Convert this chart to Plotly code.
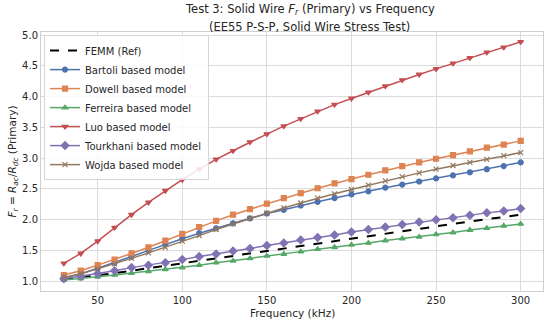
import plotly.graph_objects as go

freq_khz = [30, 40, 50, 60, 70, 80, 90, 100, 110, 120, 130, 140, 150, 160, 170, 180, 190, 200,
            210, 220, 230, 240, 250, 260, 270, 280, 290, 300]

femm = [1.03, 1.06, 1.09, 1.13, 1.17, 1.21, 1.25, 1.29, 1.33, 1.37, 1.41, 1.45, 1.49, 1.53,
        1.57, 1.61, 1.65, 1.70, 1.74, 1.78, 1.82, 1.86, 1.90, 1.94, 1.97, 2.01, 2.04, 2.08]
bartoli = [1.05, 1.12, 1.21, 1.30, 1.40, 1.50, 1.60, 1.69, 1.78, 1.86, 1.94, 2.02, 2.10, 2.16,
           2.23, 2.29, 2.35, 2.41, 2.46, 2.52, 2.57, 2.62, 2.67, 2.72, 2.77, 2.82, 2.87, 2.93]
dowell = [1.10, 1.17, 1.26, 1.35, 1.45, 1.55, 1.66, 1.77, 1.88, 1.98, 2.08, 2.17, 2.26, 2.35,
          2.43, 2.51, 2.59, 2.66, 2.73, 2.80, 2.87, 2.93, 2.99, 3.05, 3.11, 3.17, 3.22, 3.28]
ferreira = [1.02, 1.04, 1.07, 1.10, 1.13, 1.16, 1.19, 1.22, 1.26, 1.30, 1.33, 1.37, 1.41, 1.44,
            1.48, 1.52, 1.55, 1.59, 1.62, 1.66, 1.69, 1.72, 1.76, 1.79, 1.83, 1.86, 1.90, 1.93]
luo = [1.29, 1.45, 1.65, 1.87, 2.08, 2.28, 2.47, 2.65, 2.82, 2.98, 3.12, 3.26, 3.39, 3.52,
       3.64, 3.76, 3.87, 3.97, 4.07, 4.17, 4.27, 4.36, 4.45, 4.54, 4.63, 4.72, 4.80, 4.89]
tourkhani = [1.04, 1.08, 1.12, 1.17, 1.22, 1.26, 1.30, 1.35, 1.40, 1.44, 1.49, 1.53, 1.58, 1.62,
             1.67, 1.71, 1.75, 1.80, 1.84, 1.88, 1.92, 1.96, 2.00, 2.03, 2.07, 2.11, 2.14, 2.18]
wojda = [1.06, 1.12, 1.20, 1.28, 1.37, 1.46, 1.55, 1.65, 1.74, 1.84, 1.93, 2.02, 2.11, 2.19,
         2.27, 2.35, 2.42, 2.49, 2.56, 2.63, 2.70, 2.76, 2.82, 2.88, 2.93, 2.98, 3.04, 3.09]

x_ticks = [50, 100, 150, 200, 250, 300]
y_ticks = [1.0, 1.5, 2.0, 2.5, 3.0, 3.5, 4.0, 4.5, 5.0]

title_line1 = "Test 3: Solid Wire <i>F<sub>r</sub></i> (Primary) vs Frequency"
title_line2 = "(EE55 P-S-P, Solid Wire Stress Test)"
x_title = "Frequency (kHz)"
y_title = "<i>F<sub>r</sub></i> = <i>R<sub>ac</sub></i>/<i>R<sub>dc</sub></i> (Primary)"

models = [
    ("Bartoli based model", bartoli, "#4C72B0", "circle", 5),
    ("Dowell based model", dowell, "#DD8452", "square", 5),
    ("Ferreira based model", ferreira, "#55A868", "triangle-up", 5),
    ("Luo based model", luo, "#C44E52", "triangle-down", 5),
    ("Tourkhani based model", tourkhani, "#8172B3", "diamond", 6),
    ("Wojda based model", wojda, "#937860", "x-thin-open", 5),
]

fig = go.Figure()
fig.add_trace(go.Scatter(x=freq_khz, y=femm, mode="lines", name="FEMM (Ref)",
                         line=dict(color="black", width=2, dash="dash")))
for name, vals, col, sym, sz in models:
    fig.add_trace(go.Scatter(x=freq_khz, y=vals, mode="lines+markers", name=name,
                             line=dict(color=col, width=1.5),
                             marker=dict(symbol=sym, size=sz, color=col,
                                         line=dict(color=col, width=1.2))))

fig.update_layout(
    width=550, height=325,
    margin=dict(l=41, r=7, t=32, b=34, autoexpand=False),
    paper_bgcolor="white", plot_bgcolor="white",
    font=dict(family="DejaVu Sans", size=10, color="#262626"),
    showlegend=True,
    legend=dict(x=0.006, y=0.988, xanchor="left", yanchor="top",
                bgcolor="rgba(255,255,255,0.85)", bordercolor="#d5d5d5", borderwidth=1,
                font=dict(size=10), tracegroupgap=0, itemwidth=30),
    annotations=[
        dict(text=title_line1, xref="paper", yref="paper", x=0.535, y=1.0 + 22 / 259,
             xanchor="center", yanchor="middle", showarrow=False,
             font=dict(size=11.5, color="#262626")),
        dict(text=title_line2, xref="paper", yref="paper", x=0.535, y=1.0 + 5 / 259,
             xanchor="center", yanchor="middle", showarrow=False,
             font=dict(size=11.5, color="#262626")),
        dict(text=x_title, xref="paper", yref="paper", x=0.5, y=-22 / 259,
             xanchor="center", yanchor="middle", showarrow=False,
             font=dict(size=10.5, color="#262626")),
        dict(text=y_title, xref="paper", yref="paper", x=-29 / 502, y=0.5,
             xanchor="center", yanchor="middle", showarrow=False, textangle=-90,
             font=dict(size=10.5, color="#262626")),
    ],
)
fig.update_xaxes(range=[16.5, 313.2], tickvals=x_ticks, ticks="",
                 showgrid=True, gridcolor="#dcdcdc", gridwidth=1,
                 showline=True, linecolor="#d0d0d0", mirror=True, zeroline=False,
                 tickfont=dict(size=10))
fig.update_yaxes(range=[0.84, 5.05], tickvals=y_ticks, tickformat=".1f", ticks="",
                 showgrid=True, gridcolor="#dcdcdc", gridwidth=1,
                 showline=True, linecolor="#d0d0d0", mirror=True, zeroline=False,
                 tickfont=dict(size=10))

fig.write_html("out.html", config={"displayModeBar": False},
               post_script="document.body.style.margin='0';")
